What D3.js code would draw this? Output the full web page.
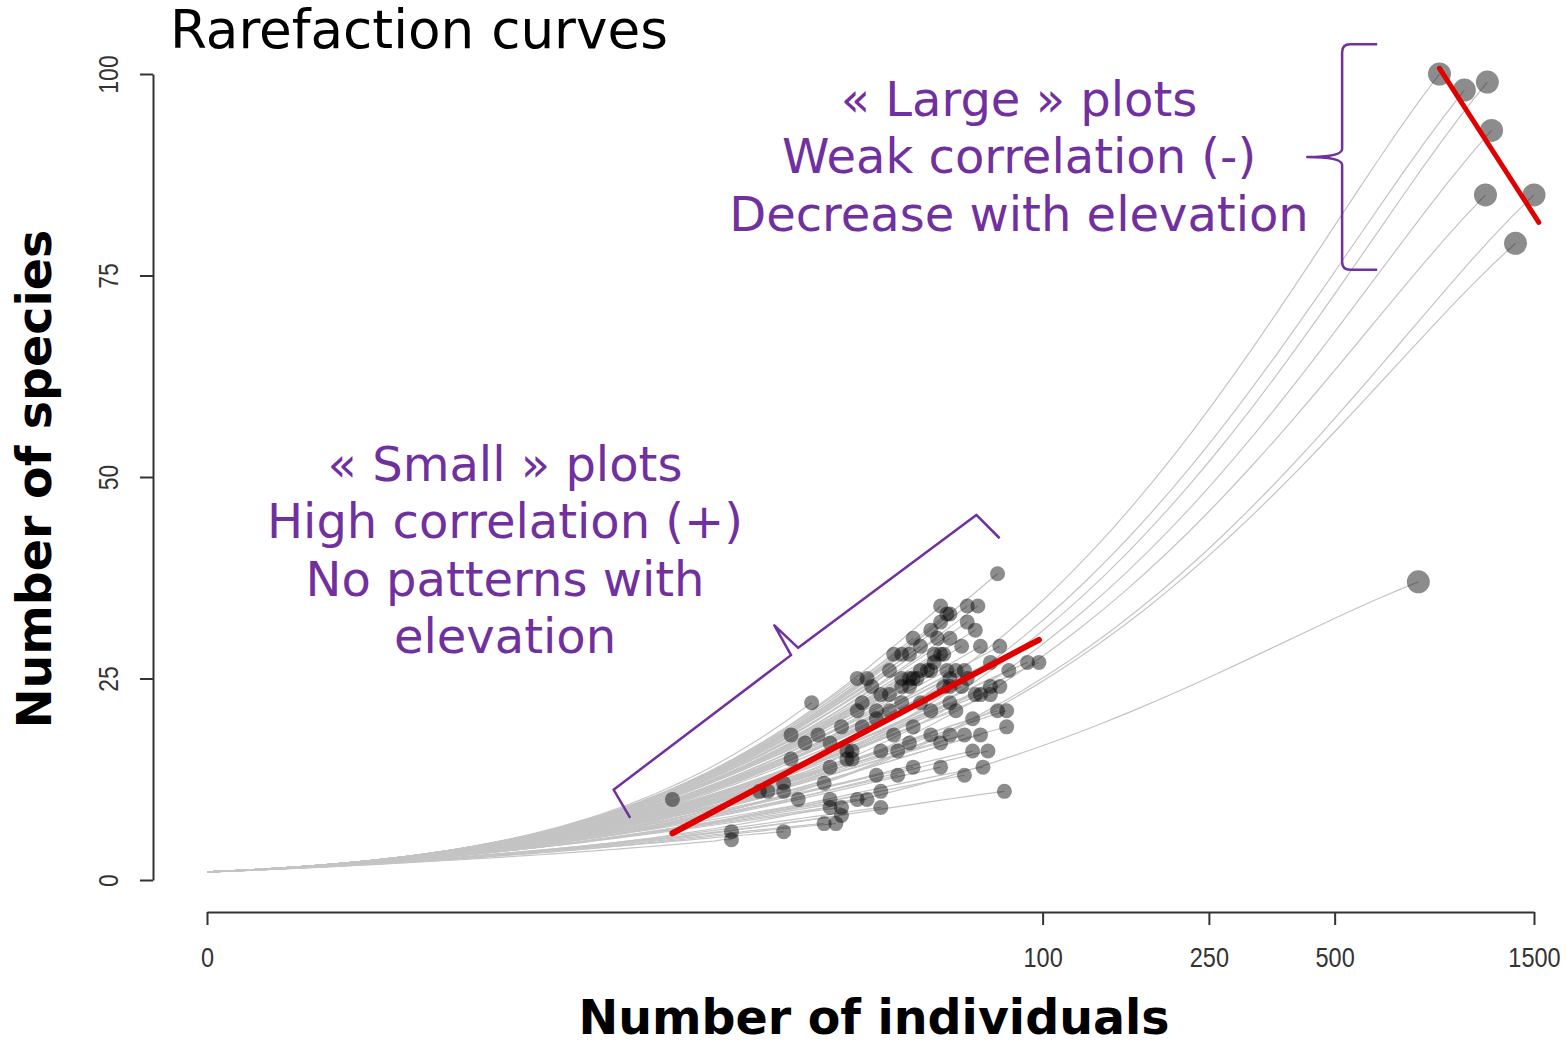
<!DOCTYPE html>
<html>
<head>
<meta charset="utf-8">
<title>Rarefaction curves</title>
<script src="https://cdn.jsdelivr.net/npm/d3@7/dist/d3.min.js"></script>
<style>
  html, body { margin: 0; padding: 0; background: #fff; }
  svg { display: block; }
</style>
</head>
<body>
<svg id="chart" width="1566" height="1041"></svg>
<script>
// ---- Data -------------------------------------------------------------
// Each plot: [number of individuals, number of species]
const smallPlots = [
  [78,38],[57,34],[60,33],[66,34],[70,34],[66,32],[57,32],[69,31],[49,30],[51,29],
  [56,30],[60,30],[64,29],[71,29],[46,28],[44,28],[55,28],[58,28],[79,29],[43,26],
  [55,27],[53,26],[48,25],[46,24],[49,25],[59,26],[62,26],[75,27],[83,26],[92,27],
  [98,27],[36,25],[38,25],[41,23],[39,24],[43,23],[60,24],[64,24],[69,23],[75,24],
  [79,24],[60,22],[62,21],[54,21],[51,22],[46,22],[43,21],[37,22],[36,21],[40,21],
  [78,21],[82,21],[68,20],[82,19],[28,22],[33,19],[37,19],[40,20],[44,18],[49,19],
  [54,18],[57,17],[60,18],[65,18],[71,18],[25,18],[27,17],[29,18],[31,17],[34,16],
  [35,16],[41,16],[45,16],[48,17],[68,16],[74,16],[25,15],[31,14],[34,15],[35,15],
  [49,14],[57,14],[65,13],[72,14],[40,13],[45,13],[24,12],[30,12],[26,10],[22,11],
  [21,11],[13,10],[31,10],[33,9],[31,9],[36,10],[38,10],[41,11],[41,9],[30,7],
  [32,7],[24,6],[18,6],[18,5],[81,11],[59,33],[54,31],[48,28],[54,26],[51,26],
  [46,25],[48,24],[50,25],[57,28],[65,26],[66,25],[75,23],[71,23],[60,25],[58,24],
  [24,11],[33,8]
];
const largePlots = [
  [891,100],[1022,98],[1160,99],[1187,93],[1148,85],[1500,85],[1355,79],[793,37]
];
// Fitted trends (endpoints in individuals / species)
const smallTrend = [[13,5.8],[98,29.8]];
const largeTrend = [[891,100.7],[1540,81.6]];

const xTicks = [1, 100, 250, 500, 1500];
const xTickLabels = ["0", "100", "250", "500", "1500"];
const yTicks = [0, 25, 50, 75, 100];

const title = "Rarefaction curves";
const xTitle = "Number of individuals";
const yTitle = "Number of species";
const largeNote = ["\u00ab Large \u00bb plots", "Weak correlation (-)", "Decrease with elevation"];
const smallNote = ["\u00ab Small \u00bb plots", "High correlation (+)", "No patterns with", "elevation"];

// ---- Scales -------------------------------------------------------------
const svg = d3.select("#chart");
const x = d3.scaleLog().domain([1, 1500]).range([207, 1534]);
const y = d3.scaleLinear().domain([0, 100]).range([880, 74]);

// ---- Rarefaction (hypergeometric expectation, Zipf-like abundances) ----
const LG = [0.99999999999980993, 676.5203681218851, -1259.1392167224028,
  771.32342877765313, -176.61502916214059, 12.507343278686905,
  -0.13857109526572012, 9.9843695780195716e-6, 1.5056327351493116e-7];
function lgamma(z) {
  if (z < 0.5) return Math.log(Math.PI / Math.sin(Math.PI * z)) - lgamma(1 - z);
  z -= 1;
  let a = LG[0];
  const t = z + 7.5;
  for (let i = 1; i < 9; i++) a += LG[i] / (z + i);
  return 0.5 * Math.log(2 * Math.PI) + (z + 0.5) * Math.log(t) - t + Math.log(a);
}
// integer rank-abundance a_k ~ (S/k)^z (at least one individual), total N
function abundances(N, S) {
  const counts = z => d3.range(1, S + 1).map(k => Math.max(1, Math.round(Math.pow(S / k, z))));
  let lo = 0, hi = 10;
  for (let k = 0; k < 60; k++) {
    const mid = (lo + hi) / 2;
    if (d3.sum(counts(mid)) > N) hi = mid; else lo = mid;
  }
  const out = counts(lo);
  out[0] += N - d3.sum(out);
  return out;
}
function rarefy(N, S) {
  const ab = abundances(N, S);
  const lgN = lgamma(N + 1);
  const steps = 60;
  const pts = [];
  for (let s = 0; s <= steps; s++) {
    const n = Math.pow(N, s / steps);
    const lgNn = lgamma(N - n + 1);
    let e = 0;
    for (const a of ab) {
      if (N - a - n < 0) { e += 1; continue; }
      const lp = lgamma(N - a + 1) + lgNn - lgamma(N - a - n + 1) - lgN;
      e += 1 - Math.exp(lp);
    }
    pts.push([n, e]);
  }
  pts[pts.length - 1] = [N, S];
  return pts;
}

const line = d3.line().x(d => x(d[0])).y(d => y(d[1]));

// ---- Curves ------------------------------------------------------------
const allPlots = smallPlots.concat(largePlots);
svg.append("g")
  .selectAll("path")
  .data(allPlots)
  .join("path")
  .attr("d", d => line(rarefy(d[0], d[1])))
  .attr("fill", "none")
  .attr("stroke", "#c4c4c4")
  .attr("stroke-width", 1.2);

// ---- Plot end points -------------------------------------------------
svg.append("g")
  .selectAll("circle")
  .data(smallPlots)
  .join("circle")
  .attr("cx", d => x(d[0]))
  .attr("cy", d => y(d[1]))
  .attr("r", 7.5)
  .attr("fill", "#000")
  .attr("fill-opacity", 0.45);

svg.append("g")
  .selectAll("circle")
  .data(largePlots)
  .join("circle")
  .attr("cx", d => x(d[0]))
  .attr("cy", d => y(d[1]))
  .attr("r", 11.5)
  .attr("fill", "#000")
  .attr("fill-opacity", 0.45);

// ---- Trend lines ------------------------------------------------------
svg.append("path").attr("d", line(smallTrend))
  .attr("fill", "none").attr("stroke", "#e00000").attr("stroke-width", 6)
  .attr("stroke-linecap", "round");
svg.append("path").attr("d", line(largeTrend))
  .attr("fill", "none").attr("stroke", "#e00000").attr("stroke-width", 5)
  .attr("stroke-linecap", "round");

// ---- Axes -------------------------------------------------------------
const axisColor = "#333";
const gx = svg.append("g").attr("transform", "translate(0,912)")
  .call(d3.axisBottom(x).tickValues(xTicks).tickSize(13).tickSizeOuter(0)
    .tickPadding(22).tickFormat((d, i) => xTickLabels[i]));
const gy = svg.append("g").attr("transform", "translate(153,0)")
  .call(d3.axisLeft(y).tickValues(yTicks).tickSize(13).tickSizeOuter(0)
    .tickFormat(d3.format("d")));
[gx, gy].forEach(g => {
  g.select(".domain").attr("stroke", axisColor).attr("stroke-width", 2);
  g.selectAll(".tick line").attr("stroke", axisColor).attr("stroke-width", 2);
  g.selectAll(".tick text")
    .attr("fill", axisColor)
    .style("font-family", "'Liberation Sans', Arial, sans-serif")
    .style("font-size", "28px");
});
gx.selectAll(".tick text").attr("transform", "scale(0.84,1)");
gy.selectAll(".tick text")
  .attr("x", null).attr("dy", null).attr("text-anchor", "middle")
  .attr("transform", "translate(-35,0) rotate(-90) scale(0.82,1)");

// ---- Titles -----------------------------------------------------------
svg.append("text").attr("x", 170).attr("y", 48)
  .style("font-family", "'DejaVu Sans', sans-serif").style("font-size", "53.2px")
  .attr("fill", "#000").text(title);

svg.append("text").attr("x", 874).attr("y", 1034).attr("text-anchor", "middle")
  .style("font-family", "'DejaVu Sans', sans-serif").style("font-weight", "bold")
  .style("font-size", "47.5px").attr("fill", "#000").text(xTitle);

svg.append("text").attr("transform", "translate(51,479) rotate(-90)")
  .attr("text-anchor", "middle")
  .style("font-family", "'DejaVu Sans', sans-serif").style("font-weight", "bold")
  .style("font-size", "47.5px").attr("fill", "#000").text(yTitle);

// ---- Annotations -------------------------------------------------------
const purple = "#7030a0";
function note(lines, cx, y0) {
  svg.append("g").selectAll("text").data(lines).join("text")
    .attr("x", cx).attr("y", (d, i) => y0 + i * 57.3)
    .attr("text-anchor", "middle")
    .style("font-family", "'DejaVu Sans', sans-serif").style("font-size", "48px")
    .attr("fill", purple).text(d => d);
}
note(largeNote, 1019, 116);
note(smallNote, 505, 481);

// Vertical curly brace grouping the large plots (anchored in data space)
(function () {
  const sx = x(521), ex = x(632), tx = x(430);
  const top = y(103.7), mid = y(89.7), bot = y(75.7);
  const r = 8;
  const p = d3.path();
  p.moveTo(ex, top);
  p.lineTo(sx + r, top);
  p.quadraticCurveTo(sx, top, sx, top + r);
  p.lineTo(sx, mid - r);
  p.quadraticCurveTo(sx, mid, tx, mid);
  p.quadraticCurveTo(sx, mid, sx, mid + r);
  p.lineTo(sx, bot - r);
  p.quadraticCurveTo(sx, bot, sx + r, bot);
  p.lineTo(ex, bot);
  svg.append("path").attr("d", p.toString())
    .attr("fill", "none").attr("stroke", purple).attr("stroke-width", 2.5)
    .attr("stroke-linejoin", "round");
})();

// Slanted brace grouping the small plots
const smallBrace = [[10.3,7.7],[9.4,11.2],[25.0,27.9],[22.8,31.6],[26.0,28.8],[69.4,45.3],[78.9,42.4]];
svg.append("path").attr("d", line(smallBrace))
  .attr("fill", "none").attr("stroke", purple).attr("stroke-width", 2.5)
  .attr("stroke-linejoin", "round");
</script>
</body>
</html>
